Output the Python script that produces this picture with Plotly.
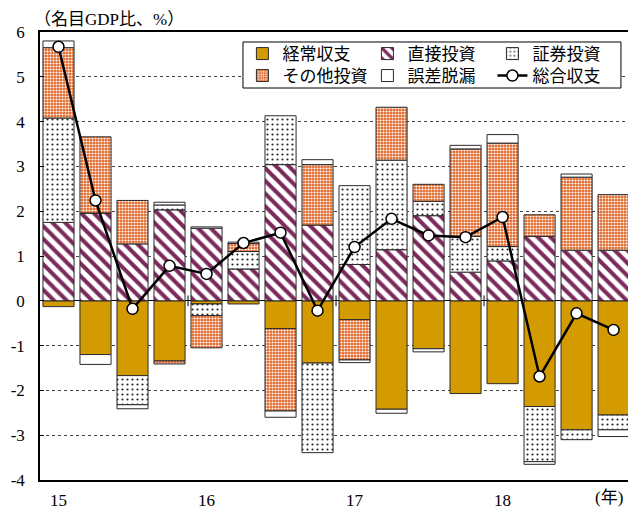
import plotly.graph_objects as go

categories = ["15Q1", "15Q2", "15Q3", "15Q4", "16Q1", "16Q2", "16Q3", "16Q4",
              "17Q1", "17Q2", "17Q3", "17Q4", "18Q1", "18Q2", "18Q3", "18Q4"]
tick_cats = ["15Q1", "16Q1", "17Q1", "18Q1"]
tick_labels = ["15", "16", "17", "18"]

current_account = [-0.13, -1.20, -1.67, -1.34, -0.07, -0.07, -0.62, -1.39,
                   -0.42, -2.42, -1.07, -2.07, -1.85, -2.36, -2.88, -2.55]
direct_invest = [1.75, 1.96, 1.27, 2.03, 1.62, 0.71, 3.04, 1.69,
                 0.81, 1.14, 1.90, 0.64, 0.89, 1.44, 1.13, 1.13]
portfolio_invest = [2.33, 0.00, -0.65, 0.11, -0.26, 0.39, 1.09, -2.00,
                    1.76, 2.00, 0.32, 0.80, 0.32, -1.23, -0.22, -0.33]
other_invest = [1.57, 1.70, 0.97, -0.07, -0.72, 0.18, -1.84, 1.35,
                -0.90, 1.18, 0.38, 1.95, 2.31, 0.48, 1.63, 1.24]
errors_omissions = [0.15, -0.22, -0.09, 0.06, 0.03, 0.03, -0.14, 0.11,
                    -0.06, -0.09, -0.07, 0.08, 0.19, -0.06, 0.07, -0.15]
overall_balance = [5.67, 2.24, -0.18, 0.78, 0.60, 1.29, 1.52, -0.22,
                   1.20, 1.83, 1.46, 1.42, 1.87, -1.69, -0.28, -0.65]

y_ticks = [6, 5, 4, 3, 2, 1, 0, -1, -2, -3, -4]
y_tick_text = ["6", "5", "4", "3", "2", "1", "0", "-1", "-2", "-3", "-4"]

FONT = "Liberation Serif, Noto Sans CJK JP, serif"
LINE = dict(color="#2a2a2a", width=1)
BW = 0.84

fig = go.Figure()
fig.add_trace(go.Bar(x=categories, y=current_account, name="経常収支", width=BW,
                     legend="legend", marker=dict(color="#D39B00", line=LINE)))
fig.add_trace(go.Bar(x=categories, y=direct_invest, name="直接投資", width=BW,
                     legend="legend",
                     marker=dict(color="white", line=LINE,
                                 pattern=dict(shape="\\", fgcolor="#7B2A5C", bgcolor="white",
                                              size=9, solidity=0.45, fillmode="replace"))))
fig.add_trace(go.Bar(x=categories, y=portfolio_invest, name="証券投資", width=BW,
                     legend="legend",
                     marker=dict(color="white", line=LINE,
                                 pattern=dict(shape=".", fgcolor="#222222", bgcolor="white",
                                              size=5, solidity=0.15, fillmode="replace"))))
fig.add_trace(go.Bar(x=categories, y=other_invest, name="その他投資", width=BW,
                     legend="legend2",
                     marker=dict(color="#E0682A", line=LINE,
                                 pattern=dict(shape=".", fgcolor="white", bgcolor="#E0682A",
                                              size=3, solidity=0.4, fillmode="replace"))))
fig.add_trace(go.Bar(x=categories, y=errors_omissions, name="誤差脱漏", width=BW,
                     legend="legend2", marker=dict(color="white", line=LINE)))
fig.add_trace(go.Scatter(x=categories, y=overall_balance, name="総合収支", mode="lines+markers",
                         legend="legend2",
                         line=dict(color="black", width=2.5),
                         marker=dict(symbol="circle", size=11, color="white",
                                     line=dict(color="black", width=1.5))))

# year boundary ticks on the zero line
for b in [3.5, 7.5, 11.5]:
    fig.add_shape(type="line", xref="x", yref="y", x0=b, x1=b, y0=-0.12, y1=0.12,
                  line=dict(color="black", width=1))

# legend frame
fig.add_shape(type="rect", xref="paper", yref="paper", x0=0.3452, x1=0.988,
              y0=0.875, y1=0.9777, fillcolor="white", line=dict(color="black", width=1),
              layer="above")

legend_common = dict(xanchor="right", orientation="h", entrywidth=80,
                     entrywidthmode="pixels", bgcolor="rgba(0,0,0,0)", borderwidth=0,
                     font=dict(family=FONT, size=17), tracegroupgap=0, itemwidth=30)

fig.update_layout(
    width=628, height=509,
    margin=dict(l=40, r=0, t=32, b=29),
    barmode="relative",
    bargap=0.16,
    plot_bgcolor="white", paper_bgcolor="white",
    font=dict(family=FONT, size=17, color="black"),
    showlegend=True,
    legend=dict(x=0.982, y=0.991, yanchor="top", **legend_common),
    legend2=dict(x=0.982, y=0.942, yanchor="top", **legend_common),
    annotations=[
        dict(text="（名目GDP比、%）", xref="paper", yref="paper", x=0, y=1,
             xanchor="left", yanchor="bottom", xshift=-8, yshift=1, showarrow=False,
             font=dict(family=FONT, size=17)),
        dict(text="(年)", xref="paper", yref="paper", x=1, y=0,
             xanchor="right", yanchor="top", xshift=-3, yshift=-6, showarrow=False,
             font=dict(family=FONT, size=17)),
    ],
)
fig.update_xaxes(type="category", categoryorder="array", categoryarray=categories,
                 range=[-0.5, 15.39], tickvals=tick_cats, ticktext=tick_labels,
                 showline=True, linecolor="black", linewidth=1.5, mirror=True,
                 ticks="", showgrid=False, zeroline=False,
                 tickfont=dict(family=FONT, size=17), ticklabelstandoff=4)
fig.update_yaxes(range=[-4, 6], tickvals=y_ticks, ticktext=y_tick_text,
                 showline=True, linecolor="black", linewidth=1.5,
                 ticks="inside", ticklen=4, tickcolor="black",
                 showgrid=True, gridcolor="#444444", griddash="dot", gridwidth=1,
                 zeroline=True, zerolinecolor="black", zerolinewidth=1,
                 tickfont=dict(family=FONT, size=17), ticklabelstandoff=10)

fig.write_html("out.html", config={"displayModeBar": False},
               post_script="document.body.style.margin='0';document.body.style.overflow='hidden';")
